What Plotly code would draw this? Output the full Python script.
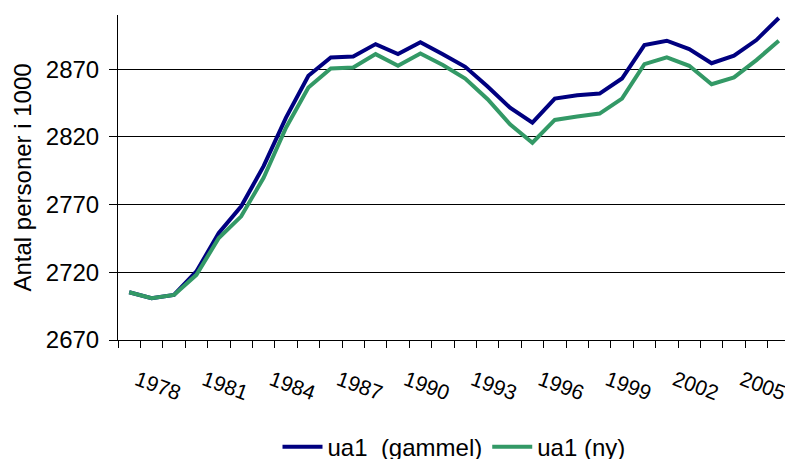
import plotly.graph_objects as go

years = list(range(1978, 2008))
gammel = [2705.3, 2700.9, 2703.3, 2720.6, 2749.0, 2768.7, 2798.4, 2834.2, 2865.1, 2878.7,
          2879.4, 2888.5, 2881.1, 2889.8, 2881.1, 2871.7, 2857.2, 2841.6, 2830.5, 2848.3,
          2850.7, 2852.0, 2863.1, 2887.8, 2891.0, 2884.8, 2874.4, 2879.9, 2891.5, 2907.8]
ny = [2705.3, 2700.9, 2703.3, 2718.1, 2745.3, 2761.3, 2789.8, 2826.8, 2856.4, 2870.5,
      2871.2, 2881.1, 2872.5, 2881.6, 2873.0, 2863.1, 2847.8, 2829.3, 2815.7, 2832.5,
      2835.0, 2837.2, 2848.3, 2873.7, 2878.7, 2872.5, 2858.9, 2863.9, 2876.7, 2891.0]
label_years = list(range(1978, 2006, 3))
y_ticks = [2670, 2720, 2770, 2820, 2870]

font_family = "Liberation Sans, Arial, sans-serif"

fig = go.Figure()
fig.add_trace(go.Scatter(x=years, y=gammel, mode="lines", name="ua1\u00a0 (gammel)",
                         line=dict(color="#000080", width=4)))
fig.add_trace(go.Scatter(x=years, y=ny, mode="lines", name="ua1 (ny)",
                         line=dict(color="#339966", width=4)))

# the page body has an 8px margin, so the figure is sized to fill the 793x459 window
fig.update_layout(
    width=785, height=451,
    margin=dict(l=110, r=3, t=7, b=119, autoexpand=False),
    paper_bgcolor="white", plot_bgcolor="white",
    font=dict(family=font_family, size=24, color="black"),
    showlegend=True,
    legend=dict(orientation="h", x=0.5, xanchor="center", y=-0.33, yanchor="middle",
                font=dict(size=24), itemwidth=40, tracegroupgap=0),
    xaxis=dict(
        range=[1977.5, 2007.5], tickmode="array", tickvals=label_years,
        ticktext=[str(v) for v in label_years], ticks="", tickangle=20,
        showgrid=False, zeroline=False, showline=True, linecolor="black", linewidth=1,
        ticklabelstandoff=19, ticklabelshift=8, ticklabeloverflow="allow",
        tickfont=dict(size=21), automargin=False,
        minor=dict(ticks="outside", ticklen=7, tickcolor="black", tickwidth=1,
                   tick0=1977.5, dtick=1, showgrid=False),
    ),
    yaxis=dict(
        range=[2670, 2910], tickmode="array", tickvals=y_ticks,
        ticks="outside", ticklen=8, tickcolor="black", tickwidth=1,
        showgrid=True, gridcolor="black", gridwidth=1,
        zeroline=False, showline=True, linecolor="black", linewidth=1,
        ticklabelstandoff=5, tickfont=dict(size=24), automargin=False,
    ),
    annotations=[dict(text="Antal personer i 1000", xref="paper", yref="paper",
                      x=0, y=0.5, xshift=-96, xanchor="center", yanchor="middle",
                      textangle=-90, showarrow=False, font=dict(size=24))],
)

fig.write_html("out.html")
